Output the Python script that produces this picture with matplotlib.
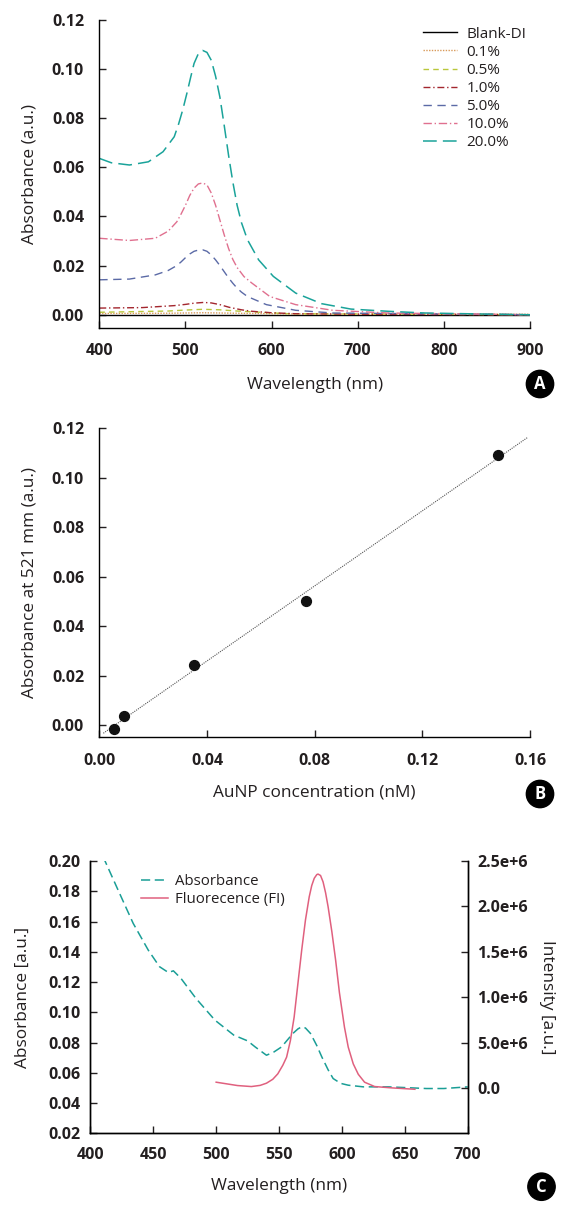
import matplotlib.pyplot as plt
import numpy as np

plt.rcParams['font.family'] = ['Open Sans', 'DejaVu Sans']
plt.rcParams['axes.linewidth'] = 1.0

# ---- panel A : absorbance spectra at several dilutions
wl_20 = [400, 414, 435, 457, 474, 487, 492, 497, 502, 506, 510, 515, 520, 525, 530, 535, 540, 545, 550, 555,
         560, 565, 572, 585, 602, 628, 658, 692, 735, 778, 843, 900]
abs_20 = [0.0636, 0.0618, 0.0609, 0.0622, 0.0663, 0.0724, 0.0775, 0.0835, 0.0905, 0.0965, 0.1022, 0.1062,
          0.1075, 0.1067, 0.1035, 0.0970, 0.0885, 0.0770, 0.0650, 0.0540, 0.0445, 0.0375, 0.0305, 0.0223,
          0.0156, 0.0088, 0.0045, 0.0023, 0.0014, 0.0007, 0.0003, 0.0]
wl_10 = [400, 435, 465, 480, 490, 495, 500, 505, 510, 515, 520, 525, 530, 535, 540, 545, 550, 555, 560, 568,
         577, 598, 628, 671, 735, 900]
abs_10 = [0.0311, 0.0302, 0.0311, 0.0340, 0.0378, 0.0410, 0.0445, 0.0485, 0.0515, 0.0532, 0.0536, 0.0528,
          0.0495, 0.0445, 0.0385, 0.0325, 0.0270, 0.0225, 0.0192, 0.0155, 0.0129, 0.0074, 0.0041, 0.0018,
          0.0007, 0.0]
wl_5 = [400, 435, 465, 480, 490, 495, 500, 505, 510, 515, 520, 525, 530, 535, 540, 545, 550, 555, 560, 565,
        572, 594, 628, 671, 900]
abs_5 = [0.0142, 0.0145, 0.0162, 0.0180, 0.0200, 0.0215, 0.0232, 0.0247, 0.0258, 0.0263, 0.0264, 0.0258,
         0.0243, 0.0223, 0.0200, 0.0175, 0.0150, 0.0128, 0.0108, 0.0092, 0.0074, 0.0041, 0.0018, 0.0007, 0.0]
wl_1 = [400, 450, 487, 500, 510, 521, 530, 540, 551, 565, 577, 600, 628, 700, 900]
abs_1 = [0.0027, 0.0029, 0.0037, 0.0042, 0.0047, 0.0050, 0.0048, 0.0041, 0.0030, 0.0020, 0.0014, 0.0008,
         0.0004, 0.0002, 0.0]
wl_05 = [400, 480, 500, 520, 540, 560, 620, 900]
abs_05 = [0.0010, 0.0015, 0.0019, 0.0022, 0.0020, 0.0015, 0.0004, 0.0]
wl_01 = [400, 480, 520, 560, 620, 900]
abs_01 = [0.0005, 0.0006, 0.0008, 0.0006, 0.0003, 0.0002]
wl_blank = [400, 900]
abs_blank = [0.0, 0.0]

# ---- panel B : calibration
conc = [0.0055, 0.009, 0.0352, 0.0769, 0.148]
abs_521 = [-0.0016, 0.0038, 0.0243, 0.0503, 0.1092]

# ---- panel C : absorbance vs fluorescence
wl_abs = [410, 422, 434, 446, 455, 462, 466, 472, 484, 499, 514, 525, 531, 540, 546, 552, 561, 565, 568, 571,
          575, 580, 584, 589, 593, 599, 605, 617, 637, 667, 681, 700]
abs_c = [0.203, 0.1808, 0.1588, 0.1411, 0.1301, 0.1263, 0.1274, 0.1224, 0.1091, 0.0948, 0.0849, 0.0811,
         0.0771, 0.0716, 0.0738, 0.0771, 0.0860, 0.0890, 0.0904, 0.0896, 0.0860, 0.0780, 0.0705, 0.0620,
         0.0562, 0.0530, 0.0518, 0.0507, 0.0507, 0.0496, 0.0496, 0.0507]
wl_fl = [500, 517, 528, 535, 540, 545, 549, 553, 556, 559, 562, 565, 568, 571, 574, 576, 578, 580, 581, 583,
         585, 587, 589, 592, 595, 598, 602, 605, 609, 613, 618, 626, 640, 658]
fl_c = [6.3e4, 2.6e4, 1.5e4, 2.8e4, 5.2e4, 9.5e4, 1.55e5, 2.5e5, 3.39e5, 5.2e5, 7.8e5, 1.15e6, 1.517e6,
        1.85e6, 2.106e6, 2.23e6, 2.31e6, 2.35e6, 2.356e6, 2.34e6, 2.27e6, 2.15e6, 1.996e6, 1.72e6, 1.406e6,
        1.05e6, 6.7e5, 4.5e5, 2.65e5, 1.5e5, 6.3e4, 1.5e4, 0.0, -1.5e4]
int_ticks = [0, 0.5e6, 1.0e6, 1.5e6, 2.0e6, 2.5e6]
int_labels = ['0.0', '5.0e+6', '1.0e+6', '1.5e+6', '2.0e+6', '2.5e+6']

ink = '#231f20'
tick_fs = 11.5
lab_fs = 12.4
W, H = 580, 1209


def style(ax, xpad, ypad, right=False):
  ax.spines['top'].set_visible(False)
  if not right:
    ax.spines['right'].set_visible(False)
  ax.tick_params(direction='in', length=5.3, width=1.0, labelsize=tick_fs, colors=ink)
  ax.tick_params(axis='x', pad=xpad)
  ax.tick_params(axis='y', pad=ypad)
  for t in ax.get_xticklabels() + ax.get_yticklabels():
    t.set_fontweight('bold')


def labels(ax, xlab, ylab, xy, yx):
  ax.set_xlabel(xlab, fontsize=lab_fs, color=ink, va='center')
  ax.set_ylabel(ylab, fontsize=lab_fs, color=ink, va='center')
  ax.xaxis.set_label_coords(0.5, xy)
  ax.yaxis.set_label_coords(yx, 0.5)


def badge(x, y, letter):
  fig.text(x / W, 1 - y / H, letter, color='white', fontsize=12, fontweight='bold', ha='center', va='center',
           bbox=dict(boxstyle='circle,pad=0.28', fc='black', ec='black'))


fig = plt.figure(figsize=(5.8, 12.09), dpi=100)

# Panel A
axA = fig.add_axes([99.3/W, 1-328/H, 430.7/W, 308.3/H])
axA.plot(wl_blank, abs_blank, color='black', lw=1.0, label='Blank-DI')
axA.plot(wl_01, abs_01, color='#d89a5a', lw=1.0, ls=(0, (1, 1)), label='0.1%')
axA.plot(wl_05, abs_05, color='#b9c73c', lw=1.0, ls=(0, (4, 3)), label='0.5%')
axA.plot(wl_1, abs_1, color='#a3262e', lw=1.0, ls=(0, (5, 2, 1, 2)), label='1.0%')
axA.plot(wl_5, abs_5, color='#5b6aa6', lw=1.0, ls=(0, (6, 4)), label='5.0%')
axA.plot(wl_10, abs_10, color='#e0708f', lw=1.0, ls=(0, (6, 2, 1, 2)), label='10.0%')
axA.plot(wl_20, abs_20, color='#1aa39a', lw=1.1, ls=(0, (9, 4)), label='20.0%')
axA.set_xlim(400, 900)
axA.set_ylim(-0.0054, 0.12)
axA.set_xticks([400, 500, 600, 700, 800, 900])
axA.set_yticks([0.0, 0.02, 0.04, 0.06, 0.08, 0.10, 0.12])
axA.yaxis.set_major_formatter(plt.FormatStrFormatter('%.2f'))
labels(axA, 'Wavelength (nm)', 'Absorbance (a.u.)', -0.185, -0.163)
style(axA, 11, 11)
axA.legend(loc='upper left', bbox_to_anchor=(0.751, 0.977), frameon=False, fontsize=11, handlelength=2.25,
           labelspacing=0.2, handletextpad=0.6, borderpad=0, borderaxespad=0, labelcolor=ink)
badge(540, 384, 'A')

# Panel B
axB = fig.add_axes([99.3/W, 1-737.3/H, 430.7/W, 309/H])
k, b0 = np.polyfit(conc, abs_521, 1)
fit_x = np.array([0.0015, 0.159])
axB.plot(fit_x, k*fit_x + b0, color='#555555', lw=0.8, ls=(0, (1, 1)))
axB.scatter(conc, abs_521, s=50, color='#111111', zorder=3)
axB.set_xlim(0, 0.16)
axB.set_ylim(-0.005, 0.12)
axB.set_xticks([0.0, 0.04, 0.08, 0.12, 0.16])
axB.set_yticks([0.0, 0.02, 0.04, 0.06, 0.08, 0.10, 0.12])
axB.xaxis.set_major_formatter(plt.FormatStrFormatter('%.2f'))
axB.yaxis.set_major_formatter(plt.FormatStrFormatter('%.2f'))
labels(axB, 'AuNP concentration (nM)', 'Absorbance at 521 mm (a.u.)', -0.180, -0.162)
style(axB, 11, 11)
badge(540, 794, 'B')

# Panel C
axC = fig.add_axes([90.4/W, 1-1133.3/H, 377.3/W, 272.3/H])
l1, = axC.plot(wl_abs, abs_c, color='#1a9e96', lw=1.1, ls=(0, (6, 3)), label='Absorbance')
axC.set_xlim(400, 700)
axC.set_ylim(0.02, 0.20)
axC.set_xticks([400, 450, 500, 550, 600, 650, 700])
axC.set_yticks(np.arange(0.02, 0.201, 0.02))
axC.yaxis.set_major_formatter(plt.FormatStrFormatter('%.2f'))
labels(axC, 'Wavelength (nm)', 'Absorbance [a.u.]', -0.1935, -0.179)
style(axC, 10, 7, right=True)
axC2 = axC.twinx()
l2, = axC2.plot(wl_fl, fl_c, color='#e0607e', lw=1.1, label='Fluorecence (FI)')
axC2.set_ylim(-0.5e6, 2.5e6)
axC2.set_yticks(int_ticks)
axC2.set_yticklabels(int_labels)
axC2.set_ylabel('Intensity [a.u.]', fontsize=lab_fs, color=ink, rotation=270, va='center')
axC2.yaxis.set_label_coords(1.211, 0.5)
style(axC2, 10, 7, right=True)
axC2.spines['left'].set_visible(True)
axC.legend(handles=[l1, l2], loc='upper left', bbox_to_anchor=(0.135, 0.952), frameon=False, fontsize=10.8,
           handlelength=1.8, labelspacing=0.2, handletextpad=0.45, borderpad=0, borderaxespad=0,
           labelcolor=ink)
badge(541.5, 1186.7, 'C')

fig.savefig('out.png', dpi=100)
